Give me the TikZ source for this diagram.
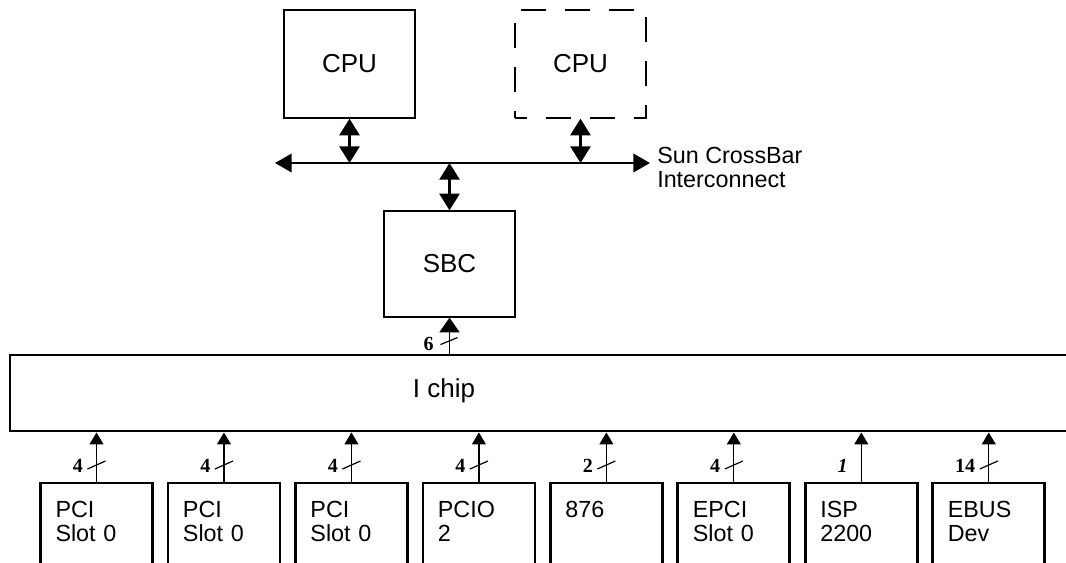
\documentclass[tikz,border=0pt]{standalone}
\usepackage{fontspec}
\setmainfont{Liberation Sans}
\newfontfamily\numfont{Liberation Serif}
\usetikzlibrary{arrows.meta, positioning}

\begin{document}
\begin{tikzpicture}[x=0.75pt, y=-0.75pt,
    every node/.style={font=\fontsize{17.5}{18}\selectfont},
    node distance = 11.6pt,
    unit/.style = {rectangle, draw, line width=1pt,
                   minimum width=98.25pt, minimum height=81pt,
                   font=\fontsize{19.5}{22}\selectfont},
    iobox/.style = {rectangle, draw, line width=2.1pt, outer sep=0pt,
                    align=left, text width=61.5pt, inner xsep=11.25pt, inner ysep=0pt,
                    text height=25.5pt, text depth=75pt, anchor=north},
    bus/.style = {{Triangle[length=12.5pt,width=13.75pt]}-{Triangle[length=12.5pt,width=13.75pt]}, line width=2.2pt},
    dbl/.style = {{Triangle[length=12.5pt,width=15pt]}-{Triangle[length=12.5pt,width=15pt]}, line width=2pt},
    up/.style = {-{Triangle[length=11pt,width=15pt]}, line width=1.3pt},
    arr/.style = {-{Triangle[length=9pt,width=10.5pt]}, line width=0.9pt},
    slash/.style = {line width=0.9pt},
    wlabel/.style = {inner sep=0pt, font=\fontsize{15}{15}\selectfont\numfont\bfseries}
]
\clip (0,0) rectangle (1066,562);

% processors and crossbar
\node (cpu1) [unit] at (349.5,64) {CPU};
\node (cpu2) [unit, dash pattern=on 18.75pt off 14.25pt, dash phase=9.75pt] at (580.5,64) {CPU};

\coordinate (busW) at (275,163);
\coordinate (busE) at (650,163);
\draw[bus] (busW) -- (busE);
\node (xbar) [right=5.25pt of busE, yshift=-3pt, align=left, inner sep=0pt] {Sun CrossBar\\Interconnect};

\node (sbc) [unit, minimum height=79.5pt] at (449.5,264) {SBC};

\draw[dbl] (cpu1.south) -- (cpu1.south |- busW);
\draw[dbl] (cpu2.south) -- (cpu2.south |- busW);
\draw[dbl] (sbc.north |- busW) -- (sbc.north);

% I chip
\node (ichip) [rectangle, draw, line width=2.2pt, minimum width=817.5pt, minimum height=57pt] at (555,393) {};
\node (ichiptxt) [anchor=base, font=\fontsize{19.5}{22}\selectfont] at (444,397) {I chip};

\coordinate (sbcin) at (sbc.south |- ichip.north);
\draw[up] (sbcin) -- (sbc.south) node[pos=0.28, wlabel, left=11.25pt] {6};
\draw[slash] ([shift={(-9,-9)}]sbcin) -- ++(17,-7);

% devices
\node (io1) [iobox] at (96.5,483) {PCI\\Slot 0};
\node (io2) [iobox, right=of io1] {PCI\\Slot 0};
\node (io3) [iobox, right=of io2] {PCI\\Slot 0};
\node (io4) [iobox, right=of io3] {PCIO\\2};
\node (io5) [iobox, right=of io4] {876};
\node (io6) [iobox, right=of io5] {EPCI\\Slot 0};
\node (io7) [iobox, right=of io6] {ISP\\2200};
\node (io8) [iobox, right=of io7] {EBUS\\Dev};

\draw[arr] (io1.north) -- (io1.north |- ichip.south) node[pos=0.33, wlabel, left=9.75pt] {4};
\draw[arr] (io2.north) -- (io2.north |- ichip.south) node[pos=0.33, wlabel, left=9.75pt] {4};
\draw[arr] (io3.north) -- (io3.north |- ichip.south) node[pos=0.33, wlabel, left=9.75pt] {4};
\draw[arr] (io4.north) -- (io4.north |- ichip.south) node[pos=0.33, wlabel, left=9.75pt] {4};
\draw[arr] (io5.north) -- (io5.north |- ichip.south) node[pos=0.33, wlabel, left=9.75pt] {2};
\draw[arr] (io6.north) -- (io6.north |- ichip.south) node[pos=0.33, wlabel, left=9.75pt] {4};
\draw[arr] (io7.north) -- (io7.north |- ichip.south) node[pos=0.33, wlabel, left=9.75pt] {\itshape 1};
\draw[arr] (io8.north) -- (io8.north |- ichip.south) node[pos=0.33, wlabel, left=9.75pt] {14};

\draw[slash] ([shift={(-9,-14)}]io1.north) -- ++(18,-8);
\draw[slash] ([shift={(-9,-14)}]io2.north) -- ++(18,-8);
\draw[slash] ([shift={(-9,-14)}]io3.north) -- ++(18,-8);
\draw[slash] ([shift={(-9,-14)}]io4.north) -- ++(18,-8);
\draw[slash] ([shift={(-9,-14)}]io5.north) -- ++(18,-8);
\draw[slash] ([shift={(-9,-14)}]io6.north) -- ++(18,-8);
\draw[slash] ([shift={(-9,-14)}]io8.north) -- ++(18,-8);

\end{tikzpicture}
\end{document}
